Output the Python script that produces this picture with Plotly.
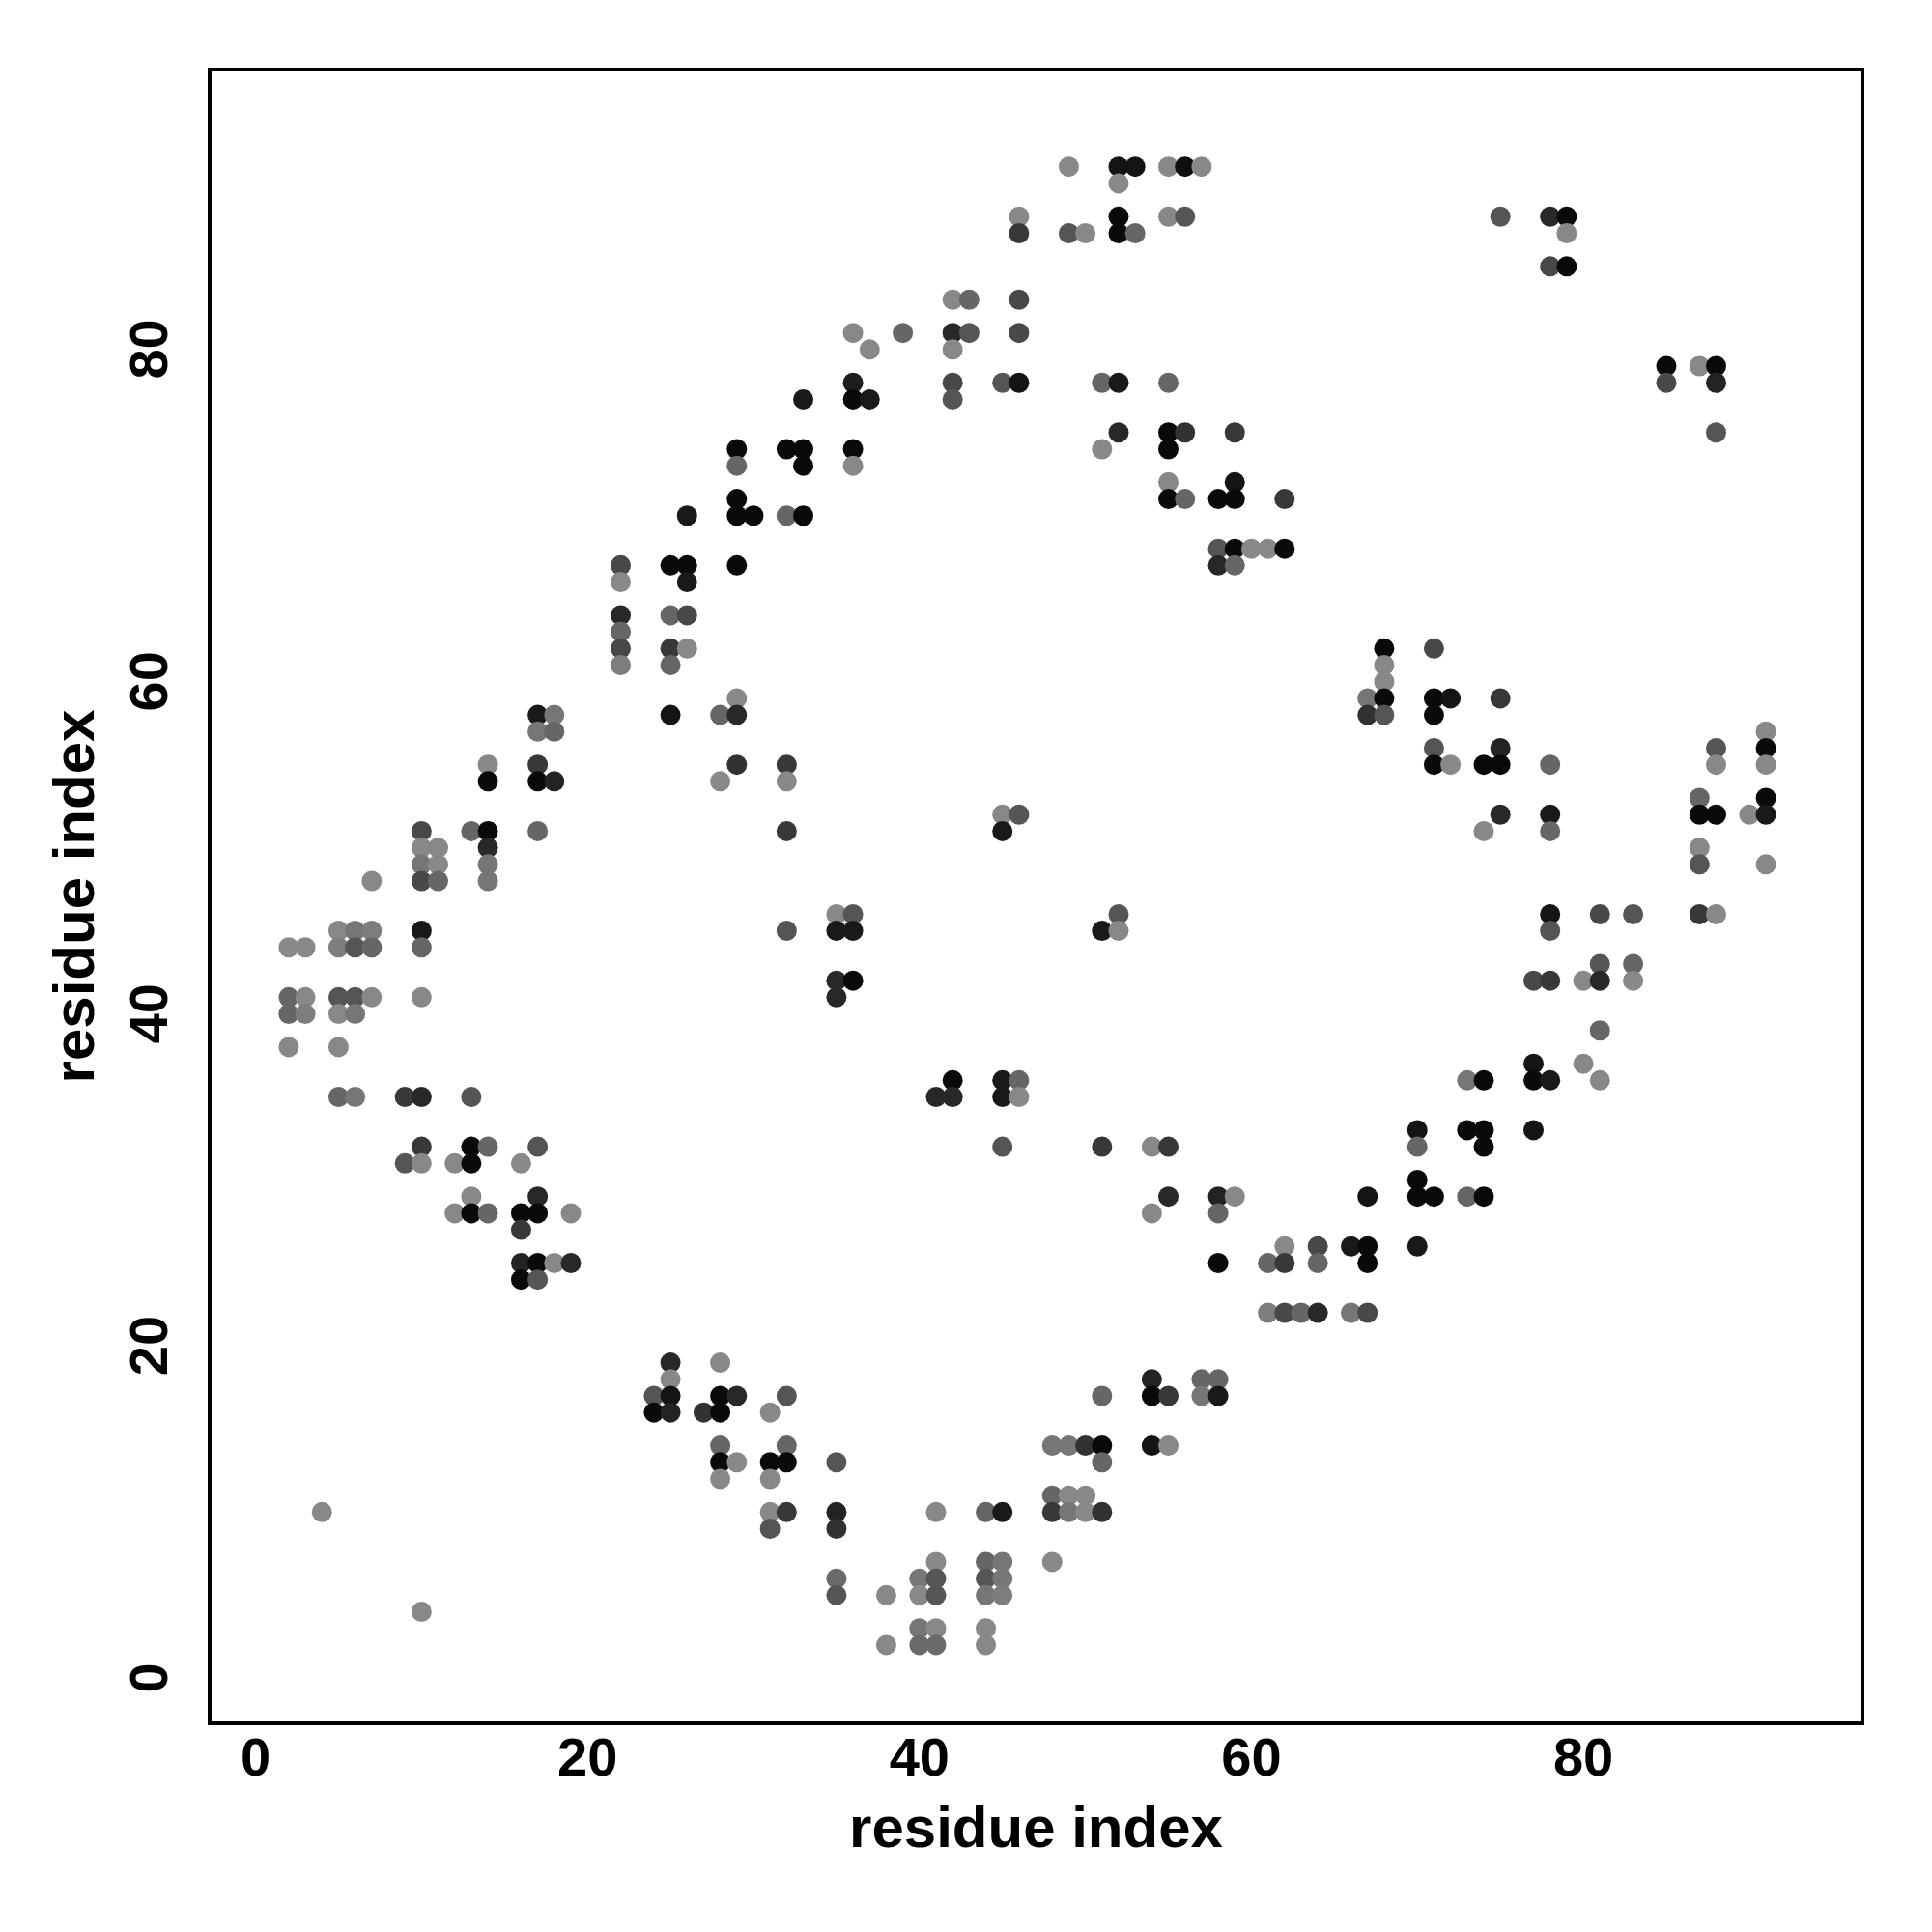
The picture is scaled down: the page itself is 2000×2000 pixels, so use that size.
import plotly.graph_objects as go

# Contact map points: residue index pairs (x, y) and grey level of each dot (0=black, 255=white)
res_x = [
    49, 52, 53, 55, 56, 57,            # y=91
    52,                                # y=90
    46, 52, 55, 56, 75, 78, 79,        # y=88
    46, 49, 50, 52, 53, 79,            # y=87
    78, 79,                            # y=85
    42, 43, 46,                        # y=83
    36, 39, 42, 43, 46,                # y=81
    37, 42,                            # y=80
    85, 87, 88,                        # y=79
    36, 42, 45, 46, 51, 52, 55, 85, 88,  # y=78
    33, 36, 37, 42,                    # y=77
    52, 55, 56, 59, 88,                # y=75
    29, 32, 33, 36, 51, 55,            # y=74
    29, 33, 36,                        # y=73
    55, 59,                            # y=72
    29, 55, 56, 58, 59, 62,            # y=71
    26, 29, 30, 32, 33,                # y=70
    58, 59, 60, 61, 62,                # y=68
    22, 25, 26, 29, 58, 59,            # y=67
    22, 26,                            # y=66
    22, 25, 26,                        # y=64
    22,                                # y=63
    22, 25, 26, 68, 71,                # y=62
    22, 25, 68,                        # y=61
    68,                                # y=60
    29, 67, 68, 71, 72, 75,            # y=59
    17, 18, 25, 28, 29, 67, 68, 71,    # y=58
    17, 18, 91,                        # y=57
    71, 75, 88, 91,                    # y=56
    14, 17, 29, 32, 71, 72, 74, 75, 78, 88, 91,  # y=55
    14, 17, 18, 28, 32,                # y=54
    87, 91,                            # y=53
    45, 46, 75, 78, 87, 88, 90, 91,    # y=52
    10, 13, 14, 17, 32, 45, 74, 78,    # y=51
    10, 11, 14, 87,                    # y=50
    10, 11, 14, 87, 91,                # y=49
    7, 10, 11, 14,                     # y=48
    35, 36, 52, 78, 81, 83, 87, 88,    # y=46
    5, 6, 7, 10, 32, 35, 36, 51, 52, 78,  # y=45
    2, 3, 5, 6, 7, 10,                 # y=44
    81, 83,                            # y=43
    35, 36, 77, 78, 80, 81, 83,        # y=42
    2, 3, 5, 6, 7, 10, 35,             # y=41
    2, 3, 5, 6,                        # y=40
    81,                                # y=39
    2, 5,                              # y=38
    77, 80,                            # y=37
    42, 45, 46, 73, 74, 77, 78, 81,    # y=36
    5, 6, 9, 10, 13, 41, 42, 45, 46,   # y=35
    70, 73, 74, 77,                    # y=33
    10, 13, 14, 17, 45, 51, 54, 55, 70, 74,  # y=32
    9, 10, 12, 13, 16,                 # y=31
    70,                                # y=30
    13, 17, 55, 58, 59, 67, 70, 71, 73, 74,  # y=29
    12, 13, 14, 16, 17, 19, 54, 58,    # y=28
    16,                                # y=27
    62, 64, 66, 67, 70,                # y=26
    16, 17, 18, 19, 58, 61, 62, 64, 67,  # y=25
    16, 17,                            # y=24
    61, 62, 63, 64, 66, 67,            # y=22
    25, 28,                            # y=19
    25, 54, 57, 58,                    # y=18
    24, 25, 28, 29, 32, 51, 54, 55, 57, 58,  # y=17
    24, 25, 27, 28, 31,                # y=16
    28, 32, 48, 49, 50, 51, 54, 55,    # y=14
    28, 29, 31, 32, 35, 51,            # y=13
    28, 31,                            # y=12
    48, 49, 50,                        # y=11
    4, 31, 32, 35, 41, 44, 45, 48, 49, 50, 51,  # y=10
    31, 35,                            # y=9
    41, 44, 45, 48,                    # y=7
    35, 40, 41, 44, 45,                # y=6
    35, 38, 40, 41, 44, 45,            # y=5
    10,                                # y=4
    40, 41, 44,                        # y=3
    38, 40, 41, 44,                    # y=2
]

res_y = (
    [91] * 6 + [90] * 1 + [88] * 7 + [87] * 6 + [85] * 2 + [83] * 3 + [81] * 5 + [80] * 2
    + [79] * 3 + [78] * 9 + [77] * 4 + [75] * 5 + [74] * 6 + [73] * 3 + [72] * 2 + [71] * 6
    + [70] * 5 + [68] * 5 + [67] * 6 + [66] * 2 + [64] * 3 + [63] * 1 + [62] * 5 + [61] * 3
    + [60] * 1 + [59] * 6 + [58] * 8 + [57] * 3 + [56] * 4 + [55] * 11 + [54] * 5 + [53] * 2
    + [52] * 8 + [51] * 8 + [50] * 4 + [49] * 5 + [48] * 4 + [46] * 8 + [45] * 10 + [44] * 6
    + [43] * 2 + [42] * 7 + [41] * 7 + [40] * 4 + [39] * 1 + [38] * 2 + [37] * 2 + [36] * 8
    + [35] * 9 + [33] * 4 + [32] * 10 + [31] * 5 + [30] * 1 + [29] * 10 + [28] * 8 + [27] * 1
    + [26] * 5 + [25] * 9 + [24] * 2 + [22] * 6 + [19] * 2 + [18] * 4 + [17] * 10 + [16] * 5
    + [14] * 8 + [13] * 6 + [12] * 2 + [11] * 3 + [10] * 11 + [9] * 2 + [7] * 4 + [6] * 5
    + [5] * 6 + [4] * 1 + [3] * 3 + [2] * 4
)

shade = [
    136, 20, 20, 136, 15, 136,         # y=91
    136,                               # y=90
    136, 10, 136, 85, 85, 40, 10,      # y=88
    56, 85, 136, 10, 102, 136,         # y=87
    72, 10,                            # y=85
    136, 102, 72,                      # y=83
    136, 102, 40, 85, 72,              # y=81
    136, 136,                          # y=80
    10, 136, 10,                       # y=79
    30, 72, 85, 20, 102, 25, 102, 72, 35,  # y=78
    25, 10, 25, 85,                    # y=77
    40, 10, 50, 56, 85,                # y=75
    10, 10, 10, 10, 136, 10,           # y=74
    102, 10, 136,                      # y=73
    136, 20,                           # y=72
    10, 10, 102, 10, 10, 56,           # y=71
    25, 10, 10, 102, 10,               # y=70
    85, 10, 136, 136, 10,              # y=68
    72, 10, 10, 10, 40, 102,           # y=67
    136, 25,                           # y=66
    40, 102, 72,                       # y=64
    102,                               # y=63
    72, 56, 136, 10, 72,               # y=62
    125, 102, 136,                     # y=61
    136,                               # y=60
    136, 118, 10, 10, 20, 56,          # y=59
    25, 118, 20, 102, 40, 50, 85, 10,  # y=58
    118, 102, 136,                     # y=57
    85, 35, 85, 10,                    # y=56
    136, 56, 50, 56, 10, 136, 10, 10, 102, 136, 136,  # y=55
    10, 10, 35, 136, 136,              # y=54
    102, 10,                           # y=53
    136, 85, 40, 25, 10, 10, 136, 25,  # y=52
    72, 102, 10, 102, 56, 25, 136, 102,  # y=51
    136, 136, 40, 136,                 # y=50
    118, 136, 118, 85, 136,            # y=49
    136, 72, 102, 118,                 # y=48
    136, 85, 85, 20, 72, 85, 56, 136,  # y=46
    136, 118, 125, 25, 85, 25, 25, 25, 136, 85,  # y=45
    136, 136, 125, 85, 102, 102,       # y=44
    85, 102,                           # y=43
    40, 10, 72, 56, 136, 40, 136,      # y=42
    102, 136, 85, 85, 136, 136, 40,    # y=41
    102, 125, 136, 118,                # y=40
    102,                               # y=39
    136, 136,                          # y=38
    20, 136,                           # y=37
    10, 25, 102, 118, 10, 10, 25, 136,  # y=36
    102, 118, 56, 40, 85, 40, 40, 25, 136,  # y=35
    20, 10, 10, 20,                    # y=33
    56, 10, 102, 85, 85, 56, 136, 56, 102, 10,  # y=32
    85, 136, 136, 10, 136,             # y=31
    10,                                # y=30
    136, 40, 40, 35, 136, 20, 10, 10, 102, 10,  # y=29
    136, 10, 102, 10, 10, 136, 136, 102,  # y=28
    56,                                # y=27
    136, 72, 25, 10, 25,               # y=26
    35, 10, 136, 40, 10, 102, 56, 102, 10,  # y=25
    10, 85,                            # y=24
    125, 72, 102, 40, 118, 72,         # y=22
    40, 136,                           # y=19
    136, 35, 102, 102,                 # y=18
    85, 20, 10, 40, 85, 102, 10, 56, 118, 25,  # y=17
    10, 35, 50, 10, 136,               # y=16
    102, 102, 118, 118, 50, 10, 20, 136,  # y=14
    10, 136, 10, 10, 85, 102,          # y=13
    136, 136,                          # y=12
    102, 136, 136,                     # y=11
    136, 136, 56, 35, 136, 102, 25, 56, 118, 136, 50,  # y=10
    85, 50,                            # y=9
    136, 102, 118, 136,                # y=7
    106, 118, 85, 85, 118,             # y=6
    85, 136, 136, 85, 118, 125,        # y=5
    136,                               # y=4
    118, 136, 136,                     # y=3
    136, 106, 106, 136,                # y=2
]

x_ticks = [0, 20, 40, 60, 80]
y_ticks = [0, 20, 40, 60, 80]
axis_title = "residue index"

colors = [f"rgb({g},{g},{g})" for g in shade]

fig = go.Figure()
fig.add_trace(go.Scatter(
    x=res_x, y=res_y, mode="markers",
    marker=dict(size=21, color=colors, line=dict(width=0)),
    hoverinfo="x+y", showlegend=False,
))

font_family = "Liberation Sans, Arial, Helvetica, sans-serif"
axis_common = dict(
    showgrid=False, zeroline=False,
    showline=True, linecolor="black", linewidth=4, mirror=True,
    ticks="", ticklen=0,
    tickfont=dict(family=font_family, size=56, color="black", weight="bold"),
    tickmode="array",
)

fig.update_layout(
    width=2000, height=2000,
    paper_bgcolor="white", plot_bgcolor="white",
    margin=dict(l=211, r=82, t=66, b=226),
    xaxis=dict(
        **axis_common, range=[-2.65, 96.7], tickvals=x_ticks,
        ticklabelstandoff=-15,
        title=dict(text=f"<b>{axis_title}</b>", standoff=22,
                   font=dict(family=font_family, size=60, color="black")),
    ),
    yaxis=dict(
        **axis_common, range=[-2.6, 96.74], tickvals=y_ticks, tickangle=-90,
        ticklabelstandoff=20, ticklabelshift=8,
        title=dict(text=f"<b>{axis_title}</b>", standoff=6,
                   font=dict(family=font_family, size=60, color="black")),
    ),
)

fig.write_html("out.html")
